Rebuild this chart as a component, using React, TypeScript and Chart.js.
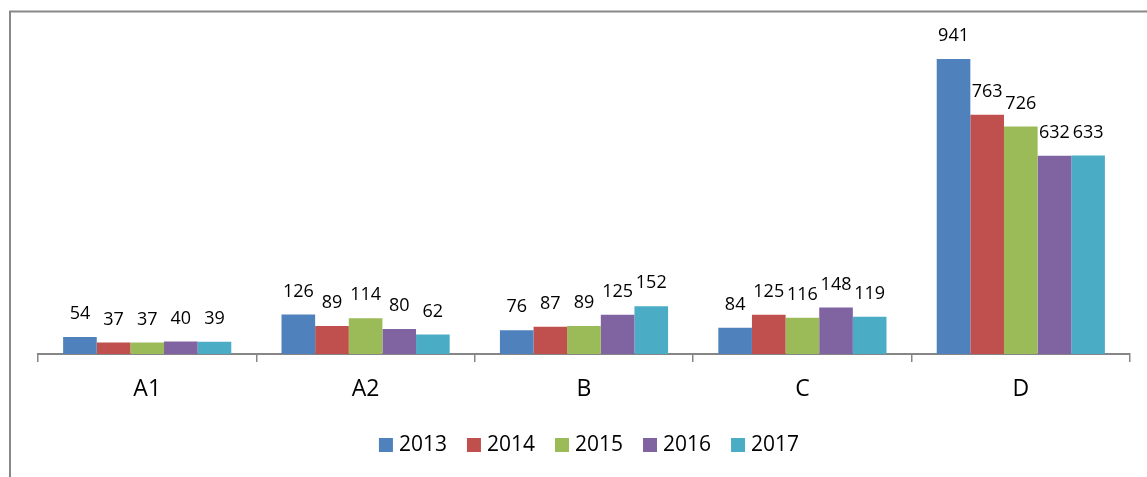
import React, { useEffect, useRef } from "react";
import { Chart, registerables } from "chart.js";

Chart.register(...registerables);

const categories = ["A1", "A2", "B", "C", "D"];
const seriesNames = ["2013", "2014", "2015", "2016", "2017"];
const values2013 = [54, 126, 76, 84, 941];
const values2014 = [37, 89, 87, 125, 763];
const values2015 = [37, 114, 89, 116, 726];
const values2016 = [40, 80, 125, 148, 632];
const values2017 = [39, 62, 152, 119, 633];
const seriesColors = ["#4F81BD", "#C0504D", "#9BBB59", "#8064A2", "#4BACC6"];

const FONT = "'Open Sans', sans-serif";

const frameAndLabels = {
  id: "frameAndLabels",
  beforeDraw(chart: any) {
    const ctx = chart.ctx;
    ctx.save();
    ctx.fillStyle = "#ffffff";
    ctx.fillRect(0, 0, chart.width, chart.height);
    ctx.strokeStyle = "#888888";
    ctx.lineWidth = 2;
    ctx.beginPath();
    ctx.moveTo(10, 477);
    ctx.lineTo(10, 11.5);
    ctx.lineTo(1147, 11.5);
    ctx.stroke();
    ctx.restore();
  },
  afterDatasetsDraw(chart: any) {
    const ctx = chart.ctx;
    ctx.save();
    ctx.font = `18px ${FONT}`;
    ctx.fillStyle = "#000000";
    ctx.textAlign = "center";
    ctx.textBaseline = "middle";
    chart.data.datasets.forEach((ds: any, i: number) => {
      const meta = chart.getDatasetMeta(i);
      meta.data.forEach((bar: any, j: number) => {
        ctx.fillText(String(ds.data[j]), bar.x, bar.y - 23);
      });
    });
    ctx.restore();
  },
  afterDraw(chart: any) {
    const ctx = chart.ctx;
    ctx.save();
    ctx.font = `21px ${FONT}`;
    ctx.textBaseline = "middle";
    ctx.textAlign = "left";
    const box = 14;
    const gapText = 6;
    const gapItem = 20;
    const items = chart.data.datasets.map((ds: any) => ({
      label: ds.label,
      color: ds.backgroundColor,
      w: ctx.measureText(ds.label).width,
    }));
    let total = 0;
    items.forEach((it: any, i: number) => {
      total += box + gapText + it.w + (i < items.length - 1 ? gapItem : 0);
    });
    let x = 589 - total / 2;
    const cy = 445;
    items.forEach((it: any) => {
      ctx.fillStyle = it.color;
      ctx.fillRect(x, cy - box / 2, box, box);
      ctx.fillStyle = "#000000";
      ctx.fillText(it.label, x + box + gapText, cy);
      x += box + gapText + it.w + gapItem;
    });
    ctx.restore();
  },
};

export default function App() {
  const ref = useRef<HTMLCanvasElement>(null);
  useEffect(() => {
    if (!ref.current) return;
    const all = [values2013, values2014, values2015, values2016, values2017];
    const chart = new Chart(ref.current, {
      type: "bar",
      data: {
        labels: categories,
        datasets: all.map((vals, i) => ({
          label: seriesNames[i],
          data: vals,
          backgroundColor: seriesColors[i],
          borderWidth: 0,
          categoryPercentage: 0.77,
          barPercentage: 1,
        })),
      },
      options: {
        responsive: false,
        animation: false,
        layout: { padding: { left: 38, right: 17, top: 40.5, bottom: 0 } },
        plugins: {
          legend: { display: false },
          tooltip: { enabled: false },
        },
        scales: {
          y: { display: false, min: 0, max: 1000 },
          x: {
            afterFit: (scale: any) => {
              scale.height = 123;
            },
            border: { display: true, color: "#868686", width: 2 },
            grid: {
              display: true,
              offset: true,
              drawOnChartArea: false,
              drawTicks: true,
              tickLength: 8,
              color: "#868686",
              lineWidth: 1.5,
            },
            ticks: {
              color: "#000000",
              padding: 14,
              font: { family: FONT, size: 23 },
            },
          },
        },
      },
      plugins: [frameAndLabels],
    });
    return () => chart.destroy();
  }, []);
  return (
    <div style={{ position: "absolute", left: 0, top: 0, width: 1147, height: 477, background: "#fff" }}>
      <canvas ref={ref} width={1147} height={477} style={{ display: "block" }} />
    </div>
  );
}
